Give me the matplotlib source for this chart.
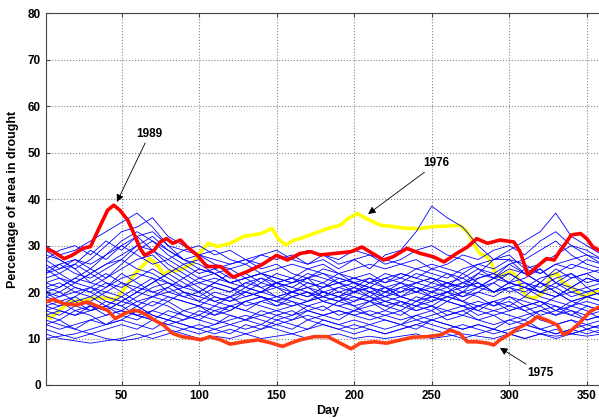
import matplotlib
matplotlib.use('Agg')
import numpy as np
import matplotlib.pyplot as plt

plt.rcParams['font.family'] = ['Liberation Sans', 'DejaVu Sans']
plt.rcParams['font.weight'] = 'bold'

# %% sampling days for the ensemble of years
days = [1, 10, 20, 30, 40, 50, 60, 70, 80, 90, 100, 110, 120, 130, 140, 150, 160, 170,
        180, 190, 200, 210, 220, 230, 240, 250, 260, 270, 280, 290, 300, 310, 320, 330,
        340, 350, 360]

# percentage of area in drought, one row per year
years_blue = [
    [30, 28, 29, 31, 33, 35, 37, 34, 30, 29, 28, 27, 26, 27, 25, 26, 24, 23, 25, 24, 22, 23, 21, 22, 20, 21, 22, 20, 23, 24, 22, 25, 24, 26, 25, 27, 26],
    [28, 27, 25, 27, 30, 33, 34, 36, 32, 30, 28, 29, 27, 26, 28, 27, 28, 26, 27, 25, 27, 28, 26, 27, 29, 30, 28, 27, 25, 23, 26, 24, 22, 25, 23, 24, 25],
    [27, 29, 30, 28, 31, 29, 32, 33, 30, 27, 26, 24, 25, 23, 24, 22, 23, 21, 22, 20, 21, 19, 21, 20, 22, 23, 21, 24, 22, 20, 21, 19, 22, 20, 18, 19, 20],
    [26, 24, 26, 29, 27, 30, 28, 26, 27, 29, 30, 28, 29, 27, 26, 28, 27, 29, 28, 26, 27, 25, 28, 29, 33, 38.5, 36, 34, 30, 27, 27, 24, 25, 22, 24, 21, 22],
    [25, 23, 22, 24, 26, 28, 30, 29, 27, 25, 23, 22, 24, 21, 20, 22, 21, 23, 20, 19, 21, 20, 18, 19, 21, 20, 22, 21, 24, 27, 29, 31, 33, 37, 32, 30, 28],
    [24, 26, 27, 25, 23, 26, 29, 31, 28, 26, 27, 25, 26, 27, 28, 29, 27, 26, 28, 27, 29, 28, 27, 26, 27, 25, 26, 28, 27, 29, 30, 28, 31, 33, 30, 29, 27],
    [22, 21, 23, 25, 28, 30, 32, 29, 26, 24, 22, 21, 20, 22, 23, 21, 22, 24, 23, 22, 21, 23, 22, 24, 23, 25, 24, 22, 21, 23, 24, 22, 21, 23, 24, 22, 23],
    [21, 22, 20, 19, 21, 24, 22, 20, 21, 19, 18, 20, 19, 21, 20, 22, 21, 20, 19, 21, 20, 22, 21, 19, 20, 22, 24, 23, 21, 22, 20, 21, 19, 18, 17, 19, 18],
    [20, 18, 19, 21, 23, 25, 27, 28, 25, 23, 21, 19, 18, 20, 19, 18, 20, 19, 21, 22, 20, 19, 18, 17, 19, 18, 20, 19, 21, 20, 22, 21, 23, 24, 26, 25, 24],
    [19, 20, 22, 24, 22, 20, 18, 19, 21, 23, 25, 24, 22, 23, 21, 22, 20, 21, 19, 18, 20, 21, 20, 22, 21, 19, 20, 22, 23, 24, 22, 23, 25, 22, 20, 21, 19],
    [18, 17, 19, 17, 16, 18, 20, 22, 24, 22, 20, 18, 17, 16, 18, 17, 19, 18, 20, 19, 17, 18, 16, 18, 17, 19, 18, 17, 16, 18, 19, 17, 15, 16, 18, 17, 16],
    [17, 16, 15, 16, 18, 17, 15, 16, 18, 20, 19, 21, 20, 22, 21, 19, 20, 22, 21, 23, 22, 20, 21, 19, 18, 20, 21, 19, 20, 22, 24, 22, 20, 19, 21, 23, 22],
    [16, 15, 17, 18, 20, 19, 17, 15, 14, 16, 17, 15, 16, 18, 17, 16, 15, 17, 16, 18, 17, 15, 16, 15, 17, 16, 18, 17, 15, 16, 17, 19, 18, 17, 16, 15, 16],
    [15, 14, 16, 15, 13, 14, 16, 18, 17, 15, 14, 16, 15, 14, 13, 15, 14, 16, 15, 14, 16, 15, 14, 13, 15, 16, 14, 15, 17, 16, 15, 14, 16, 15, 17, 16, 14],
    [14, 13, 12, 14, 13, 15, 17, 19, 18, 16, 15, 17, 16, 18, 19, 17, 18, 16, 17, 15, 16, 18, 17, 18, 16, 17, 15, 16, 14, 15, 13, 14, 12, 13, 14, 12, 13],
    [13, 14, 12, 11, 12, 13, 12, 14, 13, 12, 13, 12, 11, 13, 12, 13, 12, 14, 13, 12, 13, 12, 11, 12, 13, 14, 13, 12, 13, 12, 14, 13, 12, 11, 12, 13, 12],
    [12, 11, 10, 11, 10, 9.5, 10, 11, 12, 11, 10, 10.5, 10, 11, 10, 10.5, 11, 10, 10.5, 11, 10, 10.5, 10, 10.5, 11, 10, 10.5, 11, 10.5, 10, 11, 12, 11, 10.5, 11, 10.5, 11],
    [11, 10, 9.5, 9, 9.5, 10, 11, 10, 11, 12, 11, 12, 13, 12, 13, 12, 11, 12, 13, 12, 11, 12, 11, 12, 13, 12, 11, 10, 11, 12, 11, 10, 11, 12, 11, 12, 11],
    [10, 10.5, 11, 12, 13, 14, 13, 12, 14, 13, 12, 11, 12, 11, 12, 14, 13, 12, 14, 13, 12, 13, 14, 13, 12, 14, 13, 12, 13, 12, 11, 10, 11, 10, 11, 12, 13],
    [23, 24, 22, 21, 19, 18, 20, 22, 24, 26, 24, 25, 23, 24, 22, 24, 23, 25, 24, 22, 23, 24, 22, 23, 25, 24, 23, 25, 26, 25, 27, 26, 24, 26, 27, 28, 27],
    [29, 27, 25, 22, 24, 22, 21, 23, 20, 19, 20, 22, 21, 19, 20, 21, 19, 20, 18, 19, 18, 20, 19, 21, 20, 19, 20, 18, 17, 18, 16, 17, 18, 16, 15, 17, 16],
    [18, 19, 21, 20, 22, 21, 23, 25, 23, 21, 20, 22, 21, 20, 22, 21, 20, 19, 20, 21, 22, 21, 20, 21, 22, 21, 20, 21, 22, 20, 21, 22, 20, 21, 19, 20, 21],
    [17, 18, 16, 17, 15, 16, 18, 17, 19, 18, 17, 19, 18, 19, 20, 19, 20, 21, 20, 19, 20, 21, 19, 20, 21, 20, 19, 18, 20, 19, 21, 20, 22, 21, 23, 24, 22],
    [16, 17, 18, 16, 17, 15, 14, 16, 15, 14, 16, 15, 17, 16, 15, 16, 17, 18, 19, 18, 19, 18, 19, 18, 17, 18, 19, 20, 19, 17, 18, 16, 17, 15, 16, 14, 15],
    [21, 20, 18, 19, 17, 16, 15, 14, 16, 15, 14, 13, 15, 14, 16, 15, 16, 14, 15, 16, 15, 14, 15, 16, 14, 15, 16, 15, 14, 13, 14, 15, 16, 17, 15, 14, 15],
    [27, 25, 26, 24, 26, 27, 25, 24, 22, 21, 23, 24, 22, 21, 23, 22, 23, 22, 21, 22, 23, 22, 24, 23, 22, 23, 22, 21, 22, 20, 22, 21, 20, 22, 21, 23, 22],
    [20, 21, 23, 22, 21, 23, 24, 23, 22, 20, 19, 18, 19, 17, 18, 19, 18, 17, 18, 17, 18, 19, 17, 16, 18, 17, 16, 17, 18, 17, 19, 18, 17, 19, 20, 19, 18],
    [15, 16, 15, 17, 16, 18, 17, 15, 14, 13, 12, 13, 14, 15, 14, 13, 14, 15, 14, 13, 14, 13, 12, 13, 14, 13, 12, 13, 12, 11, 12, 13, 12, 11, 12, 11, 12],
    [24, 25, 27, 26, 28, 31, 33, 31, 29, 27, 28, 26, 25, 26, 24, 25, 26, 25, 26, 24, 25, 26, 25, 26, 25, 26, 25, 24, 26, 27, 28, 25, 26, 28, 30, 28, 26],
    [22, 23, 21, 20, 18, 17, 19, 21, 22, 20, 18, 17, 19, 20, 19, 18, 17, 18, 19, 20, 19, 18, 20, 19, 18, 19, 18, 20, 21, 23, 25, 24, 22, 20, 18, 19, 20],
    [19, 18, 17, 16, 17, 19, 21, 20, 19, 18, 17, 16, 17, 18, 19, 18, 19, 20, 18, 17, 16, 17, 18, 17, 16, 17, 19, 18, 16, 15, 16, 17, 18, 16, 17, 18, 17],
    [13, 12, 13, 14, 15, 16, 15, 14, 13, 14, 15, 14, 13, 14, 15, 14, 15, 16, 15, 16, 15, 16, 15, 14, 15, 14, 15, 16, 17, 18, 17, 16, 14, 13, 14, 13, 14],
    [25, 26, 24, 23, 25, 27, 30, 32, 29, 27, 25, 24, 22, 23, 24, 23, 22, 23, 24, 23, 22, 21, 23, 22, 24, 23, 22, 23, 25, 24, 26, 27, 29, 31, 28, 26, 25],
    [20, 19, 20, 21, 20, 22, 20, 19, 20, 21, 22, 23, 22, 23, 24, 23, 22, 23, 22, 24, 23, 22, 23, 24, 23, 22, 21, 22, 24, 23, 22, 21, 20, 19, 21, 20, 21],
]

# %% highlighted years
days_1989 = [1, 6, 13, 18, 25, 30, 36, 41, 45, 49, 54, 58, 62, 65, 71, 75, 79, 83, 88, 92,
             99, 105, 114, 122, 131, 140, 150, 157, 165, 172, 178, 187, 198, 205, 210, 219,
             225, 234, 243, 251, 258, 266, 273, 279, 286, 294, 303, 307, 312, 318, 324, 329,
             333, 337, 340, 346, 350, 354, 358]
vals_1989 = [29.4, 28.7, 27.2, 27.9, 29.4, 29.8, 34.1, 37.6, 38.7, 37.6, 35.5, 32.6, 29.4,
             27.9, 29.0, 30.8, 31.5, 30.5, 31.2, 29.8, 27.9, 25.5, 25.5, 23.2, 24.4, 25.8,
             27.9, 26.9, 28.3, 28.7, 28.0, 28.3, 28.7, 29.7, 28.7, 26.9, 27.6, 29.4, 28.3,
             27.6, 26.5, 28.3, 29.7, 31.5, 30.5, 31.2, 30.8, 28.7, 23.7, 25.5, 27.2, 26.9,
             29.0, 30.8, 32.3, 32.6, 31.5, 29.7, 29.0]

days_1976 = [1, 4, 10, 17, 26, 32, 41, 46, 52, 58, 62, 68, 71, 74, 77, 80, 88, 96, 101, 106,
             112, 120, 129, 140, 147, 151, 156, 161, 165, 174, 183, 191, 196, 202, 208, 217,
             225, 234, 243, 251, 260, 268, 273, 277, 281, 286, 289, 292, 296, 301, 305, 308,
             311, 316, 320, 323, 327, 331, 334, 337, 341, 346, 350, 354, 358]
vals_1976 = [15.4, 14.3, 16.1, 17.9, 18.3, 18.7, 18.7, 18.3, 20.8, 23.7, 25.1, 27.2, 26.5,
             25.5, 23.7, 24.4, 24.8, 26.2, 28.7, 30.5, 29.8, 30.5, 32.0, 32.6, 33.7, 31.5,
             30.1, 31.2, 31.5, 32.6, 33.7, 34.4, 35.8, 36.9, 35.8, 34.4, 34.1, 33.7, 33.7,
             34.1, 34.2, 34.4, 33.0, 30.5, 28.3, 27.6, 25.8, 23.3, 23.6, 24.4, 23.3, 20.8,
             19.0, 18.7, 19.4, 20.4, 23.6, 24.0, 22.2, 21.5, 20.8, 19.4, 19.0, 19.9, 20.1]

days_1975 = [1, 6, 13, 21, 28, 34, 41, 46, 52, 58, 62, 66, 71, 77, 83, 89, 97, 101, 107, 114,
             120, 129, 138, 146, 154, 159, 165, 174, 183, 191, 198, 204, 213, 221, 230, 238,
             247, 256, 262, 268, 273, 279, 286, 290, 294, 301, 307, 314, 318, 324, 331, 335,
             339, 344, 348, 352, 358]
vals_1975 = [17.9, 18.4, 17.5, 17.2, 17.9, 17.0, 16.1, 14.3, 15.4, 16.1, 15.8, 15.1, 14.0,
             12.9, 11.1, 10.4, 10.0, 9.7, 10.4, 9.7, 8.8, 9.3, 9.7, 9.1, 8.3, 9.0, 9.7, 10.4,
             10.4, 9.0, 7.8, 9.0, 9.3, 9.0, 9.7, 10.3, 10.4, 10.8, 11.8, 11.1, 9.3, 9.3, 9.0,
             8.6, 9.7, 11.1, 12.5, 13.6, 14.7, 14.0, 12.9, 10.8, 11.5, 12.9, 14.3, 15.8, 16.8]

# %%
fig = plt.figure(figsize=(5.99, 4.18), dpi=100)
ax = fig.add_axes([0.076, 0.079, 0.9424, 0.889])

ax.plot(days_1976, vals_1976, color='#ffff00', lw=2.6, zorder=2)
for row in years_blue:
    ax.plot(days, row, color='#0000ff', lw=0.6, zorder=3)
ax.plot(days_1989, vals_1989, color='#ff0000', lw=2.6, zorder=4)
ax.plot(days_1975, vals_1975, color='#ff3c14', lw=2.6, zorder=4)

ax.set_xlim(1, 365)
ax.set_ylim(0, 80)
ax.set_xticks([50, 100, 150, 200, 250, 300, 350])
ax.set_yticks(range(0, 81, 10))
ax.grid(True, ls=':', color='#888888', lw=0.8)
ax.tick_params(direction='in', top=True, right=True, labelsize=8.5, length=3,
               color='#444444')
for lab in ax.get_xticklabels() + ax.get_yticklabels():
    lab.set_fontweight('bold')
for s in ax.spines.values():
    s.set_color('#444444')

ax.set_xlabel('Day', fontsize=9, fontweight='bold', labelpad=2)
ax.set_ylabel('Percentage of area in drought', fontsize=9, fontweight='bold', labelpad=6)

arrow = dict(arrowstyle='-|>', color='k', lw=0.6, mutation_scale=11, shrinkA=0, shrinkB=0)
ax.annotate('1989', xy=(47, 39.4), xytext=(68, 54), fontsize=8.5, fontweight='bold',
            ha='center', va='center', arrowprops=arrow)
ax.annotate('1976', xy=(209, 36.8), xytext=(253, 47.7), fontsize=8.5, fontweight='bold',
            ha='center', va='center', arrowprops=arrow)
ax.annotate('1975', xy=(294, 8.0), xytext=(320, 2.6), fontsize=8.5, fontweight='bold',
            ha='center', va='center', arrowprops=arrow)

fig.savefig('out.png', dpi=100)
